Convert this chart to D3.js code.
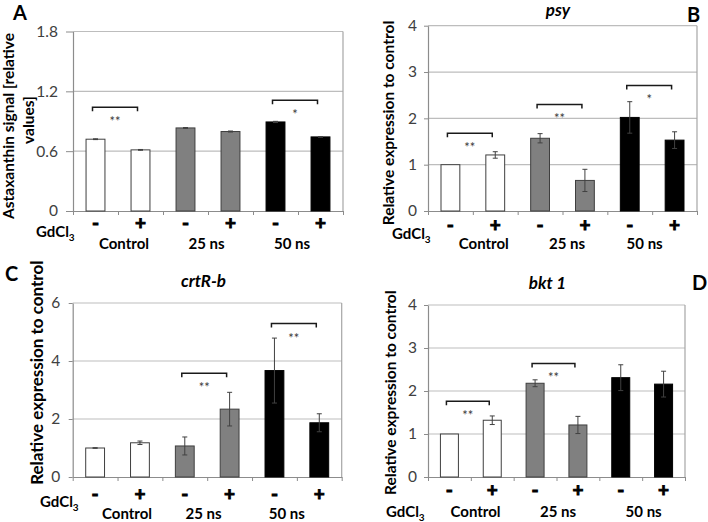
<!DOCTYPE html>
<html><head><meta charset="utf-8">
<script src="https://cdn.jsdelivr.net/npm/d3@7"></script>
<style>
body{margin:0;background:#fff}
svg{display:block;font-family:Lato,'Open Sans',sans-serif}
</style>
</head><body>
<script>
// ---------- data ----------
const groups = ["Control", "25 ns", "50 ns"];
const gdSigns = ["-", "+", "-", "+", "-", "+"];

const astaValues = [0.72, 0.613, 0.833, 0.797, 0.893, 0.743];
const astaErrors = [0.004, 0.004, 0.004, 0.005, 0.006, 0.004];
const astaTicks = [0, 0.6, 1.2, 1.8];
const astaTickLabels = ["0", "0.6", "1.2", "1.8"];
const astaSig = [{a: 0, b: 1, y: 1.04, t: "**"}, {a: 4, b: 5, y: 1.11, t: "*"}];

const psyValues = [1.0, 1.21, 1.57, 0.66, 2.02, 1.53];
const psyErrors = [0.0, 0.07, 0.1, 0.24, 0.34, 0.18];
const psyTicks = [0, 1, 2, 3, 4];
const psyTickLabels = ["0", "1", "2", "3", "4"];
const psySig = [{a: 0, b: 1, y: 1.68, t: "**"}, {a: 2, b: 3, y: 2.30, t: "**"}, {a: 4, b: 5, y: 2.71, t: "*"}];

const crtValues = [1.0, 1.18, 1.07, 2.34, 3.67, 1.87];
const crtErrors = [0.01, 0.06, 0.31, 0.58, 1.12, 0.31];
const crtTicks = [0, 2, 4, 6];
const crtTickLabels = ["0", "2", "4", "6"];
const crtSig = [{a: 2, b: 3, y: 3.58, t: "**"}, {a: 4, b: 5, y: 5.29, t: "**"}];

const bktValues = [1.0, 1.32, 2.18, 1.21, 2.31, 2.16];
const bktErrors = [0.0, 0.1, 0.08, 0.2, 0.3, 0.3];
const bktTicks = [0, 1, 2, 3, 4];
const bktTickLabels = ["0", "1", "2", "3", "4"];
const bktSig = [{a: 0, b: 1, y: 1.76, t: "**"}, {a: 2, b: 3, y: 2.64, t: "**"}];

const yLabelRel = ["Relative expression to control"];
const yLabelAsta = ["Astaxanthin signal [relative", "values]"];

// ---------- layout ----------
const panels = [
  {letter: "A", title: null, values: astaValues, errors: astaErrors, ticks: astaTicks, tickLabels: astaTickLabels, sig: astaSig, ylabel: yLabelAsta,
   L: {x0: 73, x1: 343, y0: 31.5, y1: 211, letterX: 13, letterY: 20, ylabX: [9, 29], ylabY: [126, 120], ylabSize: 15.5,
       signOff: 12, gdX: 36, gdY: 237, grpY: 249, grpDx: [6, -1.5, -6], tickLen: 7, tickGap: 15}},
  {letter: "B", title: "psy", values: psyValues, errors: psyErrors, ticks: psyTicks, tickLabels: psyTickLabels, sig: psySig, ylabel: yLabelRel,
   L: {x0: 428, x1: 697, y0: 25.7, y1: 211, letterX: 687, letterY: 22, titleX: 558, titleY: 16, ylabX: [389], ylabY: [123], ylabSize: 15.5,
       signOff: 14, gdX: 392, gdY: 239, grpY: 248.5, grpDx: [11, 4.5, -7.5], tickLen: 4, tickGap: 11}},
  {letter: "C", title: "crtR-b", values: crtValues, errors: crtErrors, ticks: crtTicks, tickLabels: crtTickLabels, sig: crtSig, ylabel: yLabelRel,
   L: {x0: 72.7, x1: 341.7, y0: 303, y1: 477, letterX: 5, letterY: 281, titleX: 203.5, titleY: 287, ylabX: [36.7], ylabY: [372.7], ylabSize: 17,
       signOff: 17, gdX: 40, gdY: 507, grpY: 519, grpDx: [9.5, -3.7, -10], tickLen: 4, tickGap: 12.5}},
  {letter: "D", title: "bkt 1", values: bktValues, errors: bktErrors, ticks: bktTicks, tickLabels: bktTickLabels, sig: bktSig, ylabel: yLabelRel,
   L: {x0: 428, x1: 685, y0: 305, y1: 477, letterX: 692, letterY: 290, titleX: 547.5, titleY: 288.5, ylabX: [390.7], ylabY: [392.7], ylabSize: 15.5,
       signOff: 13, gdX: 386, gdY: 517, grpY: 517, grpDx: [4.7, 1.5, 1.5], tickLen: 4, tickGap: 11}}
];

const fills = ["#ffffff", "#808080", "#000000"];
const svg = d3.select("body").append("svg").attr("width", 708).attr("height", 522);

panels.forEach(p => {
  const L = p.L;
  const g = svg.append("g");
  const x = d3.scaleBand().domain(d3.range(p.values.length)).range([L.x0, L.x1]).paddingInner(0.58).paddingOuter(0.29);
  const xs = d3.scaleLinear().domain([0, p.values.length]).range([L.x0, L.x1]);
  const y = d3.scaleLinear().domain([0, d3.max(p.ticks)]).range([L.y1, L.y0]);
  const bw = x.bandwidth();

  // gridlines
  g.append("g").selectAll("line").data(p.ticks.filter(t => t > 0)).join("line")
    .attr("x1", L.x0).attr("x2", L.x1).attr("y1", d => y(d)).attr("y2", d => y(d))
    .attr("stroke", "#bdbdbd").attr("stroke-width", 1.2);
  // right border
  g.append("line").attr("x1", L.x1).attr("x2", L.x1).attr("y1", y(d3.max(p.ticks))).attr("y2", y(0))
    .attr("stroke", "#a6a6a6").attr("stroke-width", 1.2);

  // y axis
  const ya = g.append("g").attr("transform", `translate(${L.x0},0)`)
    .call(d3.axisLeft(y).tickValues(p.ticks).tickFormat((d, i) => p.tickLabels[i])
      .tickSize(L.tickLen).tickSizeOuter(0).tickPadding(L.tickGap - L.tickLen));
  ya.select(".domain").attr("stroke", "#8c8c8c").attr("stroke-width", 1.2);
  ya.selectAll(".tick line").attr("stroke", "#8c8c8c");
  ya.selectAll("text").attr("font-size", 15.5).attr("fill", "#404040").attr("font-family", "Lato");

  // x axis (slot boundaries)
  const xa = g.append("g").attr("transform", `translate(0,${L.y1})`)
    .call(d3.axisBottom(xs).tickValues(d3.range(p.values.length + 1)).tickFormat("").tickSize(4).tickSizeOuter(0));
  xa.select(".domain").attr("stroke", "#8c8c8c").attr("stroke-width", 1.2);
  xa.selectAll(".tick line").attr("stroke", "#8c8c8c");

  // bars
  g.append("g").selectAll("rect").data(p.values).join("rect")
    .attr("x", (d, i) => x(i)).attr("y", d => y(d))
    .attr("width", bw).attr("height", d => y(0) - y(d))
    .attr("fill", (d, i) => fills[Math.floor(i / 2)])
    .attr("stroke", (d, i) => i >= 4 ? "#000" : "#3f3f3f").attr("stroke-width", 1);

  // error bars
  const eb = g.append("g").attr("stroke", "#404040").attr("stroke-width", 1);
  p.values.forEach((v, i) => {
    const e = p.errors[i];
    if (!(e > 0)) return;
    const cx = x(i) + bw / 2;
    eb.append("line").attr("x1", cx).attr("x2", cx).attr("y1", y(v - e)).attr("y2", y(v + e));
    [v - e, v + e].forEach(val => eb.append("line").attr("x1", cx - 2.5).attr("x2", cx + 2.5).attr("y1", y(val)).attr("y2", y(val)));
  });

  // significance brackets
  p.sig.forEach(s => {
    const x1 = x(s.a) + bw / 2 - 3, x2 = x(s.b) + bw / 2 - 3, yy = y(s.y);
    g.append("path").attr("d", `M${x1},${yy + 4}V${yy}H${x2}V${yy + 4}`)
      .attr("fill", "none").attr("stroke", "#1a1a1a").attr("stroke-width", 1.5);
    g.append("text").attr("x", (x1 + x2) / 2).attr("y", yy + 19).attr("text-anchor", "middle")
      .attr("font-size", 13).attr("fill", "#3a3a3a").text(s.t);
  });

  // +/- labels
  g.append("g").selectAll("text").data(gdSigns).join("text")
    .attr("x", (d, i) => x(i) + bw / 2).attr("y", L.y1 + L.signOff + 6.5)
    .attr("text-anchor", "middle").attr("font-weight", 700).attr("font-size", 19)
    .attr("fill", "#000").attr("stroke", "#000").attr("stroke-width", 0.9)
    .text(d => d);

  // GdCl3
  const gd = g.append("text").attr("x", L.gdX).attr("y", L.gdY).attr("font-weight", 700).attr("font-size", 15).attr("fill", "#000");
  gd.append("tspan").text("GdCl");
  gd.append("tspan").attr("font-size", 10).attr("dy", 4).text("3");

  // group labels
  g.append("g").selectAll("text").data(groups).join("text")
    .attr("x", (d, k) => (x(2 * k) + x(2 * k + 1) + bw) / 2 + L.grpDx[k]).attr("y", L.grpY)
    .attr("text-anchor", "middle").attr("font-weight", 700).attr("font-size", 15).attr("fill", "#000")
    .text(d => d);

  // y label
  p.ylabel.forEach((t, k) => {
    g.append("text").attr("transform", `translate(${L.ylabX[k]},${L.ylabY[k]}) rotate(-90)`)
      .attr("dy", "0.35em").attr("text-anchor", "middle").attr("font-weight", 700)
      .attr("font-size", L.ylabSize).attr("fill", "#000").text(t);
  });

  // title
  if (p.title) {
    g.append("text").attr("x", L.titleX).attr("y", L.titleY).attr("text-anchor", "middle")
      .attr("font-weight", 700).attr("font-style", "italic").attr("font-size", 17).attr("fill", "#000").text(p.title);
  }
  // panel letter
  g.append("text").attr("x", L.letterX).attr("y", L.letterY).attr("font-weight", 700).attr("font-size", 20).attr("fill", "#000").text(p.letter);
});
</script>
</body></html>
